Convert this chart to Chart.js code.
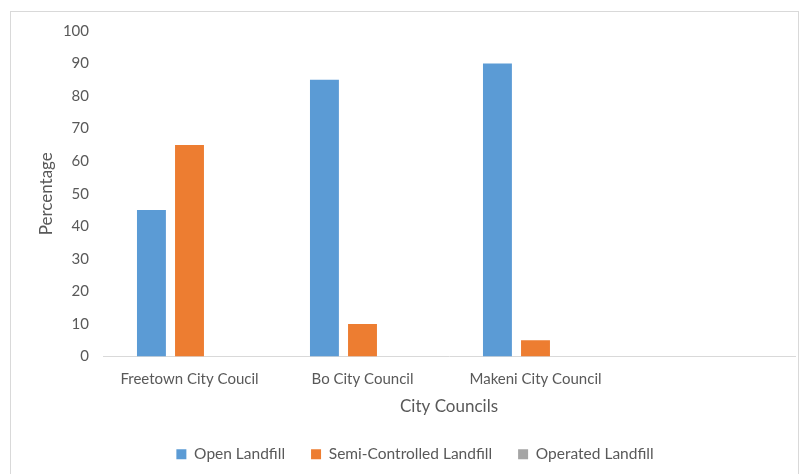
<!DOCTYPE html>
<html>
<head>
<meta charset="utf-8">
<script src="https://cdn.jsdelivr.net/npm/chart.js@4.4.1/dist/chart.umd.min.js"></script>
<style>
    html, body { margin: 0; padding: 0; background: #fff; overflow: hidden; }
    #wrap { position: relative; width: 803px; height: 474px; overflow: hidden; }
    #frame {
        position: absolute; left: 10px; top: 11px; width: 789px; height: 480px;
        border: 1px solid #d9d9d9; box-sizing: border-box;
    }
    #holder { position: absolute; left: 0; top: 0; width: 830px; height: 474px; }
</style>
</head>
<body>
<div id="wrap">
    <div id="frame"></div>
    <div id="holder"><canvas id="barChart"></canvas></div>
</div>
<script>
// ========= DATA =========
const councils = ['Freetown City Coucil', 'Bo City Council', 'Makeni City Council', ''];
const openLandfill = [45, 85, 90, null];
const semiControlled = [65, 10, 5, null];
const operatedLandfill = [0, 0, 0, null];
const yTicks = [0, 10, 20, 30, 40, 50, 60, 70, 80, 90, 100];

const FONT = 'Lato, "Open Sans", sans-serif';
const GREY = '#595959';

function initChart() {
    const ctx = document.getElementById('barChart').getContext('2d');

    new Chart(ctx, {
        type: 'bar',
        data: {
            labels: councils,
            datasets: [
                { label: 'Open Landfill', data: openLandfill, backgroundColor: '#5b9bd5' },
                { label: 'Semi-Controlled Landfill', data: semiControlled, backgroundColor: '#ed7d31' },
                { label: 'Operated Landfill', data: operatedLandfill, backgroundColor: '#a5a5a5' }
            ]
        },
        options: {
            responsive: true,
            maintainAspectRatio: false,
            animation: false,
            layout: { padding: { top: 31, right: 0, bottom: 2, left: 0 } },
            datasets: {
                bar: { barPercentage: 0.76, categoryPercentage: 0.66 }
            },
            scales: {
                x: {
                    grid: { display: false, drawTicks: false },
                    border: { display: true, color: '#d9d9d9', width: 1 },
                    ticks: { color: GREY, font: { family: FONT, size: 15 }, padding: 14, maxRotation: 0 },
                    title: {
                        display: true,
                        text: 'City Councils',
                        color: GREY,
                        font: { family: FONT, size: 17 },
                        padding: { top: 4, bottom: 4 }
                    },
                    afterFit: scale => { scale.height = 64; }
                },
                y: {
                    min: 0,
                    max: 100,
                    afterBuildTicks: scale => { scale.ticks = yTicks.map(v => ({ value: v })); },
                    grid: { display: false, drawTicks: false },
                    border: { display: false },
                    ticks: { color: GREY, font: { family: FONT, size: 15 }, padding: 14 },
                    title: {
                        display: true,
                        text: 'Percentage',
                        color: GREY,
                        font: { family: FONT, size: 17 },
                        padding: { top: 36, bottom: 0 }
                    },
                    afterFit: scale => { scale.width = 103; }
                },
                // empty spacer on the right so the plot ends where the reference does
                spacer: {
                    position: 'right',
                    display: true,
                    grid: { display: false, drawTicks: false },
                    border: { display: false },
                    ticks: { display: false },
                    afterFit: scale => { scale.width = 35; }
                }
            },
            plugins: {
                legend: {
                    position: 'bottom',
                    labels: {
                        color: GREY,
                        font: { family: FONT, size: 15.5 },
                        boxWidth: 10,
                        boxHeight: 10,
                        padding: 26
                    }
                },
                tooltip: { enabled: false }
            }
        }
    });
}

document.addEventListener('DOMContentLoaded', initChart);
</script>
</body>
</html>
